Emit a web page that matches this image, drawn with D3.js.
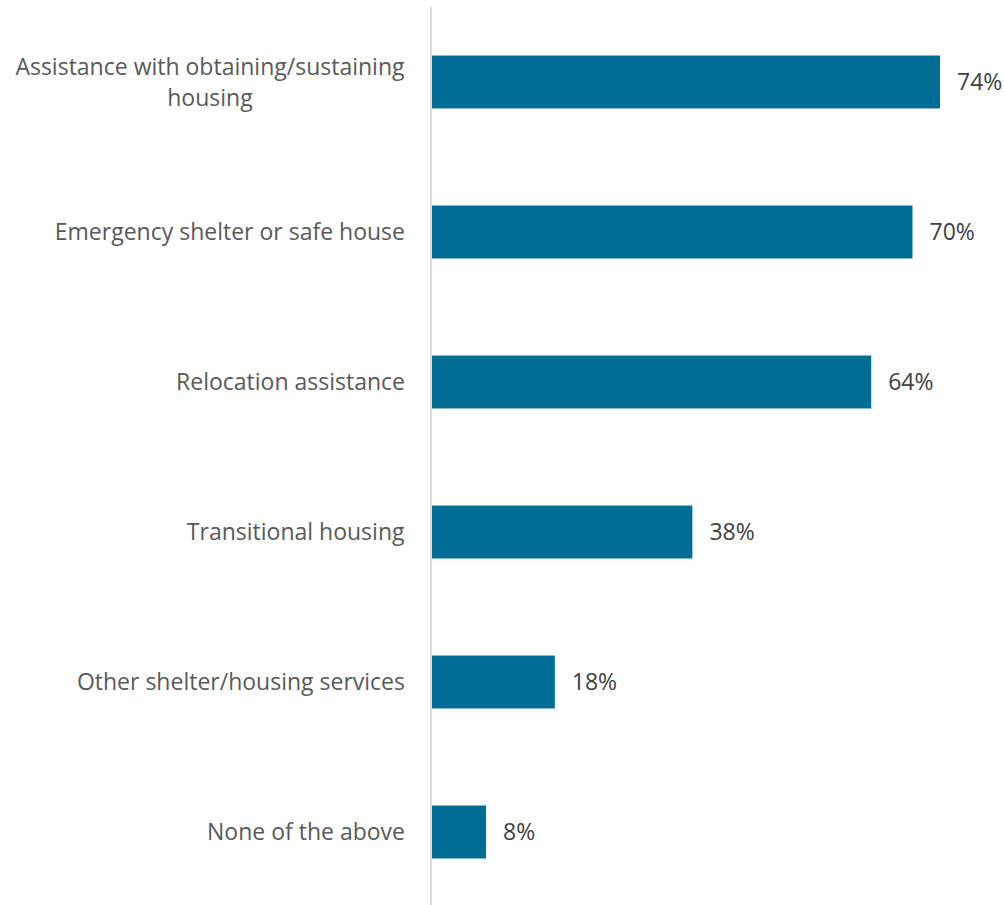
<!DOCTYPE html>
<html>
<head>
<meta charset="utf-8">
<script src="https://cdn.jsdelivr.net/npm/d3@7"></script>
<style>
  html, body { margin: 0; padding: 0; background: #fff; }
  svg { display: block; }
</style>
</head>
<body>
<svg id="chart" width="1004" height="905"></svg>
<script>
// Housing-related services, share of respondents
const categories = [
  "Assistance with obtaining/sustaining housing",
  "Emergency shelter or safe house",
  "Relocation assistance",
  "Transitional housing",
  "Other shelter/housing services",
  "None of the above"
];
const values = [74, 70, 64, 38, 18, 8];

// Category labels wrapped as drawn
const labelLines = [
  ["Assistance with obtaining/sustaining", "housing"],
  ["Emergency shelter or safe house"],
  ["Relocation assistance"],
  ["Transitional housing"],
  ["Other shelter/housing services"],
  ["None of the above"]
];

const svg = d3.select("#chart");
const axisX = 431;
const plotTop = 7, plotBottom = 907;

const x = d3.scaleLinear().domain([0, 74]).range([axisX, 940]);
const y = d3.scaleBand().domain(categories).range([plotTop, plotBottom]).paddingInner(0.647).paddingOuter(0.3235);

const font = "'Open Sans', 'Noto Sans', sans-serif";
const fontSize = 23;

// Bars
svg.append("g").selectAll("rect")
  .data(categories)
  .join("rect")
  .attr("x", x(0))
  .attr("y", d => y(d))
  .attr("width", (d, i) => x(values[i]) - x(0))
  .attr("height", y.bandwidth())
  .attr("fill", "#006e94");

// Category axis line
svg.append("line")
  .attr("x1", axisX).attr("x2", axisX)
  .attr("y1", plotTop).attr("y2", 905)
  .attr("stroke", "#d9d9d9")
  .attr("stroke-width", 2);

// Category labels
const lineH = 31;
const labels = svg.append("g").selectAll("text")
  .data(categories)
  .join("text")
  .attr("text-anchor", "middle")
  .attr("font-family", font)
  .attr("font-size", fontSize)
  .attr("fill", "#595959");

labels.each(function(d, i) {
  const lines = labelLines[i];
  const cy = y(d) + y.bandwidth() / 2;
  const startY = cy - (lines.length - 1) * lineH / 2;
  const t = d3.select(this);
  lines.forEach((ln, k) => {
    t.append("tspan")
      .attr("x", 207)
      .attr("y", startY + k * lineH)
      .attr("dy", "0.35em")
      .text(ln);
  });
});

// Align each label block's right edge just left of the axis
labels.each(function() {
  const t = d3.select(this);
  const bb = this.getBBox();
  const shift = 405 - (bb.x + bb.width);
  t.selectAll("tspan").attr("x", 207 + shift);
});

// Value labels
svg.append("g").selectAll("text")
  .data(categories)
  .join("text")
  .attr("x", (d, i) => x(values[i]) + 17)
  .attr("y", d => y(d) + y.bandwidth() / 2)
  .attr("dy", "0.35em")
  .attr("font-family", font)
  .attr("font-size", fontSize)
  .attr("fill", "#404040")
  .text((d, i) => values[i] + "%");
</script>
</body>
</html>
